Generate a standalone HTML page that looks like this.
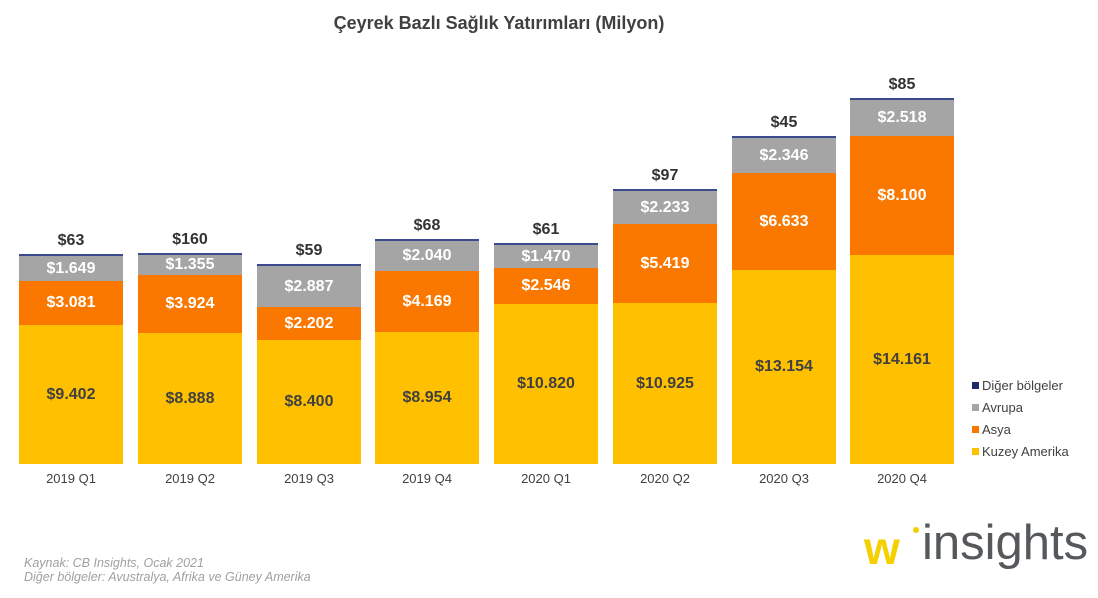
<!DOCTYPE html>
<html><head><meta charset="utf-8"><style>
body{margin:0;width:1098px;height:598px;background:#fff;position:relative;overflow:hidden;font-family:"Liberation Sans",Arial,sans-serif}
.s{position:absolute;width:104px;display:flex;align-items:center;justify-content:center;color:#fff;font-weight:bold;font-size:16px}
.t{position:absolute;width:104px;text-align:center;color:#333;font-weight:bold;font-size:16px}
.x{position:absolute;width:104px;text-align:center;color:#404040;font-size:13px;top:471px}
.lg{position:absolute;left:972px;font-size:13px;color:#404040}
.lg i{display:inline-block;width:7px;height:7px;margin-right:3px;vertical-align:1px}
</style></head><body>
<div style="position:absolute;top:13px;left:0;width:998px;text-align:center;font-weight:bold;font-size:18px;color:#404040">Çeyrek Bazlı Sağlık Yatırımları (Milyon)</div>
<div id="c"></div>
<script>
var xs=[19,138,257,375,494,613,732,850];
var d=[
[325,281,256,254,"$9.402","$3.081","$1.649","$63","2019 Q1"],
[333,275,255,253,"$8.888","$3.924","$1.355","$160","2019 Q2"],
[340,307,266,264,"$8.400","$2.202","$2.887","$59","2019 Q3"],
[332,271,241,239,"$8.954","$4.169","$2.040","$68","2019 Q4"],
[304,268,245,243,"$10.820","$2.546","$1.470","$61","2020 Q1"],
[303,224,191,189,"$10.925","$5.419","$2.233","$97","2020 Q2"],
[270,173,138,136,"$13.154","$6.633","$2.346","$45","2020 Q3"],
[255,136,100,98,"$14.161","$8.100","$2.518","$85","2020 Q4"]];
var h="";
d.forEach(function(r,i){var x=xs[i];
h+='<div class="s" style="left:'+x+'px;top:'+r[0]+'px;height:'+(464-r[0])+'px;background:#FFC000;color:#404040">'+r[4]+'</div>';
h+='<div class="s" style="left:'+x+'px;top:'+r[1]+'px;height:'+(r[0]-r[1])+'px;background:#FA7800">'+r[5]+'</div>';
h+='<div class="s" style="left:'+x+'px;top:'+r[2]+'px;height:'+(r[1]-r[2])+'px;background:#A5A5A5">'+r[6]+'</div>';
h+='<div class="s" style="left:'+x+'px;top:'+r[3]+'px;height:'+(r[2]-r[3])+'px;background:#3A4A8C"></div>';
h+='<div class="t" style="left:'+x+'px;top:'+(r[3]-22)+'px">'+r[7]+'</div>';
h+='<div class="x" style="left:'+x+'px">'+r[8]+'</div>';});
document.getElementById("c").innerHTML=h;
</script>
<div class="lg" style="top:378px"><i style="background:#1F2A6B"></i>Diğer bölgeler</div>
<div class="lg" style="top:400px"><i style="background:#A5A5A5"></i>Avrupa</div>
<div class="lg" style="top:422px"><i style="background:#FA7800"></i>Asya</div>
<div class="lg" style="top:444px"><i style="background:#FFC000"></i>Kuzey Amerika</div>
<div style="position:absolute;left:24px;top:556px;font-size:12.5px;font-style:italic;color:#a0a0a0;line-height:14px">Kaynak: CB Insights, Ocak 2021<br>Diğer bölgeler: Avustralya, Afrika ve Güney Amerika</div>
<div style="position:absolute;left:864px;top:523px;font-size:46px;line-height:50px;color:#F5D000;font-weight:bold">w</div>
<div style="position:absolute;left:913px;top:527px;width:6px;height:6px;border-radius:50%;background:#F5D000"></div>
<div style="position:absolute;left:922px;top:518px;font-size:49px;line-height:50px;color:#55595c">insights</div>
</body></html>
